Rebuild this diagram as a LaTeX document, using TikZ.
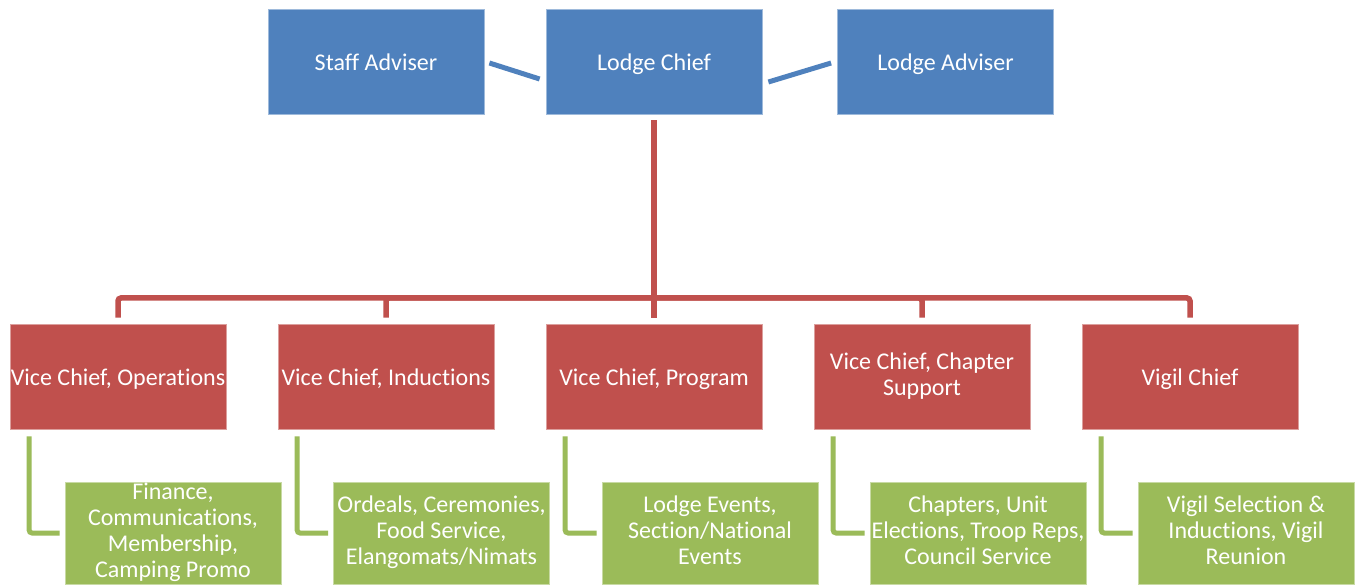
\documentclass[tikz,border=0pt]{standalone}
\usepackage{fontspec}
\setmainfont[Ligatures={NoCommon}]{Carlito}
\usetikzlibrary{calc}
\definecolor{oblue}{HTML}{4F81BD}
\definecolor{ored}{HTML}{C0504D}
\definecolor{ogreen}{HTML}{9BBB59}
\begin{document}
\begin{tikzpicture}[x=1pt,y=-1pt,
  box/.style={rectangle, minimum width=216pt, inner sep=0pt, text=white, align=center,
    font=\fontsize{24}{26}\selectfont, line width=0.8pt,
    execute at begin node=\rule{0pt}{24pt}, execute at end node=\rule[-5.5pt]{0pt}{1pt}},
  bluebox/.style={box, fill=oblue, draw=oblue!55!white, minimum height=105pt},
  redbox/.style={box, fill=ored, draw=ored!55!white, minimum height=105pt},
  greenbox/.style={box, fill=ogreen, draw=ogreen!55!white, minimum height=102pt},
  blueline/.style={draw=oblue, line width=5pt},
  redline/.style={draw=ored, line width=5.5pt, rounded corners=3pt, shorten <=6pt, shorten >=6pt},
  greenline/.style={draw=ogreen, line width=5pt, rounded corners=3pt}]
\useasboundingbox[fill=white] (0,0) rectangle (1361,585);

% top row
\node[bluebox] (sa) at (376,61.5) {Staff Adviser};
\node[bluebox] (lc) at (654,61.5) {Lodge Chief};
\node[bluebox] (la) at (945.5,61.5) {Lodge Adviser};

% second row
\node[redbox] (vc1) at (118,376.5) {Vice Chief, Operations};
\node[redbox] (vc2) at (386,376.5) {Vice Chief, Inductions};
\node[redbox] (vc3) at (654,376.5) {Vice Chief, Program};
\node[redbox] (vc4) at (922,376.5) {Vice Chief, Chapter\\Support};
\node[redbox] (vc5) at (1190,376.5) {Vigil Chief};

% third row
\node[greenbox] (g1) at (173,533) {Finance,\\Communications,\\Membership,\\Camping Promo};
\node[greenbox] (g2) at (441.5,533) {Ordeals, Ceremonies,\\Food Service,\\Elangomats/Nimats};
\node[greenbox] (g3) at (710,533) {Lodge Events,\\Section/National\\Events};
\node[greenbox] (g4) at (978,533) {Chapters, Unit\\Elections, Troop Reps,\\Council Service};
\node[greenbox] (g5) at (1246,533) {Vigil Selection \&\\Inductions, Vigil\\Reunion};

% adviser links
\draw[blueline] ($(sa.east)+(5,1.5)$) -- ($(lc.west)+(-6,17.5)$);
\draw[blueline] ($(lc.east)+(6,20.5)$) -- ($(la.west)+(-6,1.5)$);

% red tree
\coordinate (hub) at (654,298);
\foreach \n in {1,...,5}{
  \draw[redline] (lc.south) -- (hub) -| (vc\n.north);
}

% green links
\foreach \n in {1,...,5}{
  \draw[greenline] ($(vc\n.south west)+(19.5,7)$) |- ($(g\n.west)+(-5,0)$);
}
\end{tikzpicture}
\end{document}
